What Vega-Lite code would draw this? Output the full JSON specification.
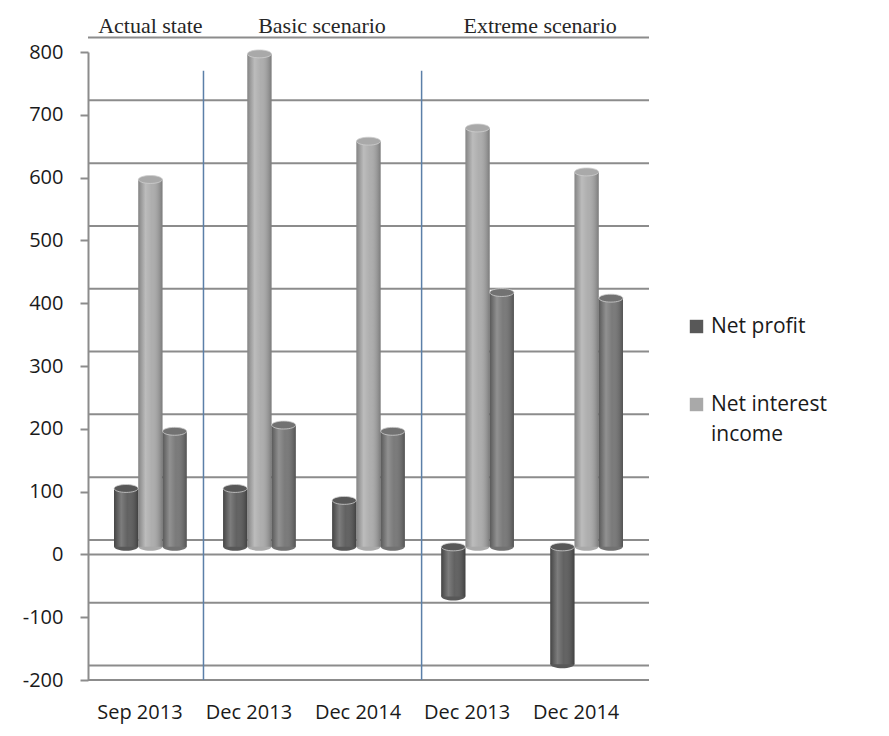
{
  "$schema": "https://vega.github.io/schema/vega-lite/v6.json",
  "autosize": {"type": "none"},
  "padding": {"left": 88, "top": 52, "right": 240, "bottom": 56},
  "width": 561,
  "height": 628,
  "background": "white",
  "datasets": {
    "results": [
      {"col": "Actual state|Sep 2013", "series": "Net profit", "value": 93},
      {"col": "Actual state|Sep 2013", "series": "Net interest income", "value": 585},
      {"col": "Actual state|Sep 2013", "series": "Series 3", "value": 184},
      {"col": "Basic scenario|Dec 2013", "series": "Net profit", "value": 93},
      {"col": "Basic scenario|Dec 2013", "series": "Net interest income", "value": 785},
      {"col": "Basic scenario|Dec 2013", "series": "Series 3", "value": 194},
      {"col": "Basic scenario|Dec 2014", "series": "Net profit", "value": 74},
      {"col": "Basic scenario|Dec 2014", "series": "Net interest income", "value": 646},
      {"col": "Basic scenario|Dec 2014", "series": "Series 3", "value": 184},
      {"col": "Extreme scenario|Dec 2013", "series": "Net profit", "value": -79},
      {"col": "Extreme scenario|Dec 2013", "series": "Net interest income", "value": 667},
      {"col": "Extreme scenario|Dec 2013", "series": "Series 3", "value": 405},
      {"col": "Extreme scenario|Dec 2014", "series": "Net profit", "value": -187},
      {"col": "Extreme scenario|Dec 2014", "series": "Net interest income", "value": 597},
      {"col": "Extreme scenario|Dec 2014", "series": "Series 3", "value": 396}
    ],
    "levels": [
      {"level": -200}, {"level": -100}, {"level": 0}, {"level": 100}, {"level": 200},
      {"level": 300}, {"level": 400}, {"level": 500}, {"level": 600}, {"level": 700}, {"level": 800}
    ],
    "frontLines": [{"edge": 0}, {"edge": -200}],
    "dividers": [
      {"col": "Actual state|Sep 2013"},
      {"col": "Basic scenario|Dec 2014"}
    ],
    "headers": [
      {"col": "Actual state|Sep 2013", "scenario": "Actual state", "span": 1},
      {"col": "Basic scenario|Dec 2013", "scenario": "Basic scenario", "span": 2},
      {"col": "Extreme scenario|Dec 2013", "scenario": "Extreme scenario", "span": 2}
    ]
  },
  "config": {
    "view": {"stroke": null},
    "font": "Open Sans",
    "axis": {"labelFont": "Open Sans", "labelColor": "#1a1a1a"},
    "style": {"guide-label": {"lineHeight": 30}}
  },
  "resolve": {"scale": {"y": "independent"}},
  "layer": [
    {
      "description": "Back wall gridlines, drawn one depth step behind the front axis",
      "data": {"name": "levels"},
      "mark": {"type": "rule", "color": "#8c8c8c", "strokeWidth": 2},
      "encoding": {
        "y": {
          "field": "level",
          "type": "quantitative",
          "scale": {"domain": [-223, 777], "nice": false, "zero": false},
          "axis": null
        }
      }
    },
    {
      "description": "Front plane: value axis with the zero line and the floor edge",
      "data": {"name": "frontLines"},
      "mark": {"type": "rule", "color": "#8c8c8c", "strokeWidth": 2},
      "encoding": {
        "y": {
          "field": "edge",
          "type": "quantitative",
          "scale": {"domain": [-200, 800], "nice": false, "zero": false},
          "axis": {
            "title": null,
            "values": [-200, -100, 0, 100, 200, 300, 400, 500, 600, 700, 800],
            "labelExpr": "'' + datum.value",
            "labelFontSize": 20,
            "labelPadding": 17,
            "grid": false,
            "domainColor": "#8c8c8c",
            "domainWidth": 2,
            "tickColor": "#8c8c8c",
            "tickWidth": 2,
            "tickSize": 8
          }
        }
      }
    },
    {
      "description": "Cylinder columns, set half a depth step behind the front axis",
      "data": {"name": "results"},
      "encoding": {
        "x": {
          "field": "col",
          "type": "nominal",
          "sort": null,
          "scale": {"paddingInner": 0.333, "paddingOuter": 0.2385},
          "axis": {
            "title": null,
            "orient": "bottom",
            "labelExpr": "split(datum.label, '|')[1]",
            "labelAngle": 0,
            "labelFontSize": 20,
            "labelPadding": 22,
            "labelOffset": -10.5,
            "domain": false,
            "ticks": false
          }
        },
        "xOffset": {
          "field": "series",
          "type": "nominal",
          "scale": {"domain": ["Net profit", "Net interest income", "Series 3"], "paddingInner": 0, "paddingOuter": 0}
        },
        "color": {
          "field": "series",
          "type": "nominal",
          "scale": {
            "domain": ["Net profit", "Net interest income", "Series 3"],
            "range": ["#585858", "#a9a9a9", "#727272"]
          },
          "legend": {
            "values": ["Net profit", "Net interest income"],
            "title": null,
            "orient": "none",
            "legendX": 598,
            "legendY": 264,
            "symbolType": "square",
            "symbolSize": 180,
            "symbolStrokeWidth": 0,
            "symbolOpacity": 1,
            "labelFont": "Open Sans",
            "labelFontSize": 21,
            "labelColor": "#1a1a1a",
            "labelOffset": 4,
            "labelLimit": 200,
            "rowPadding": 56,
            "labelExpr": "datum.label == 'Net interest income' ? ['Net interest', 'income'] : datum.label"
          }
        }
      },
      "layer": [
        {
          "transform": [{"filter": "datum.value >= 0"}],
          "mark": {"type": "point", "filled": true, "opacity": 1, "size": 576, "shape": "M-1,0 A1,0.33,0,1,1,1,0 A1,0.33,0,1,1,-1,0 Z"},
          "encoding": {"y": {"datum": 0, "type": "quantitative", "scale": {"domain": [-212, 788], "nice": false, "zero": false}, "axis": null}}
        },
        {
          "transform": [{"filter": "datum.value < 0"}],
          "mark": {"type": "point", "filled": true, "opacity": 1, "size": 576, "shape": "M-1,0 A1,0.33,0,1,1,1,0 A1,0.33,0,1,1,-1,0 Z"},
          "encoding": {"y": {"field": "value", "type": "quantitative", "axis": null}}
        },
        {
          "mark": {"type": "bar"},
          "encoding": {"y": {"field": "value", "type": "quantitative", "axis": null}}
        },
        {
          "mark": {
            "type": "bar",
            "fill": {
              "gradient": "linear",
              "x1": 0, "x2": 1, "y1": 0, "y2": 0,
              "stops": [
                {"offset": 0, "color": "rgba(0,0,0,0.22)"},
                {"offset": 0.3, "color": "rgba(255,255,255,0.22)"},
                {"offset": 0.55, "color": "rgba(255,255,255,0.06)"},
                {"offset": 1, "color": "rgba(0,0,0,0.28)"}
              ]
            }
          },
          "encoding": {"y": {"field": "value", "type": "quantitative", "axis": null}, "color": null}
        },
        {
          "transform": [{"filter": "datum.value >= 0"}],
          "mark": {"type": "point", "filled": true, "opacity": 1, "size": 576, "stroke": "#cfcfcf", "strokeWidth": 0.8, "shape": "M-1,0 A1,0.33,0,1,1,1,0 A1,0.33,0,1,1,-1,0 Z"},
          "encoding": {"y": {"field": "value", "type": "quantitative", "axis": null}}
        },
        {
          "transform": [{"filter": "datum.value < 0"}],
          "mark": {"type": "point", "filled": true, "opacity": 1, "size": 576, "stroke": "#cfcfcf", "strokeWidth": 0.8, "shape": "M-1,0 A1,0.33,0,1,1,1,0 A1,0.33,0,1,1,-1,0 Z"},
          "encoding": {"y": {"datum": 0, "type": "quantitative", "axis": null}}
        }
      ]
    },
    {
      "description": "Scenario dividers and headers on the front scale",
      "layer": [
        {
          "data": {"name": "dividers"},
          "mark": {"type": "rule", "color": "#5b7fa8", "strokeWidth": 1.5},
          "encoding": {
            "x": {"field": "col", "type": "nominal", "sort": null, "bandPosition": 1.23},
            "y": {"datum": 770, "type": "quantitative", "scale": {"domain": [-200, 800], "nice": false, "zero": false}, "axis": null},
            "y2": {"datum": -200}
          }
        },
        {
          "data": {"name": "headers"},
          "transform": [{"filter": "datum.span == 1"}],
          "mark": {"type": "text", "font": "Liberation Serif", "fontSize": 22, "color": "#262626", "baseline": "alphabetic", "dy": -19},
          "encoding": {
            "x": {"field": "col", "type": "nominal", "sort": null, "bandPosition": 0.5},
            "y": {"datum": 800, "type": "quantitative", "axis": null},
            "text": {"field": "scenario"}
          }
        },
        {
          "data": {"name": "headers"},
          "transform": [{"filter": "datum.span == 2"}],
          "mark": {"type": "text", "font": "Liberation Serif", "fontSize": 22, "color": "#262626", "baseline": "alphabetic", "dy": -19},
          "encoding": {
            "x": {"field": "col", "type": "nominal", "sort": null, "bandPosition": 1.36},
            "y": {"datum": 800, "type": "quantitative", "axis": null},
            "text": {"field": "scenario"}
          }
        }
      ]
    }
  ]
}
